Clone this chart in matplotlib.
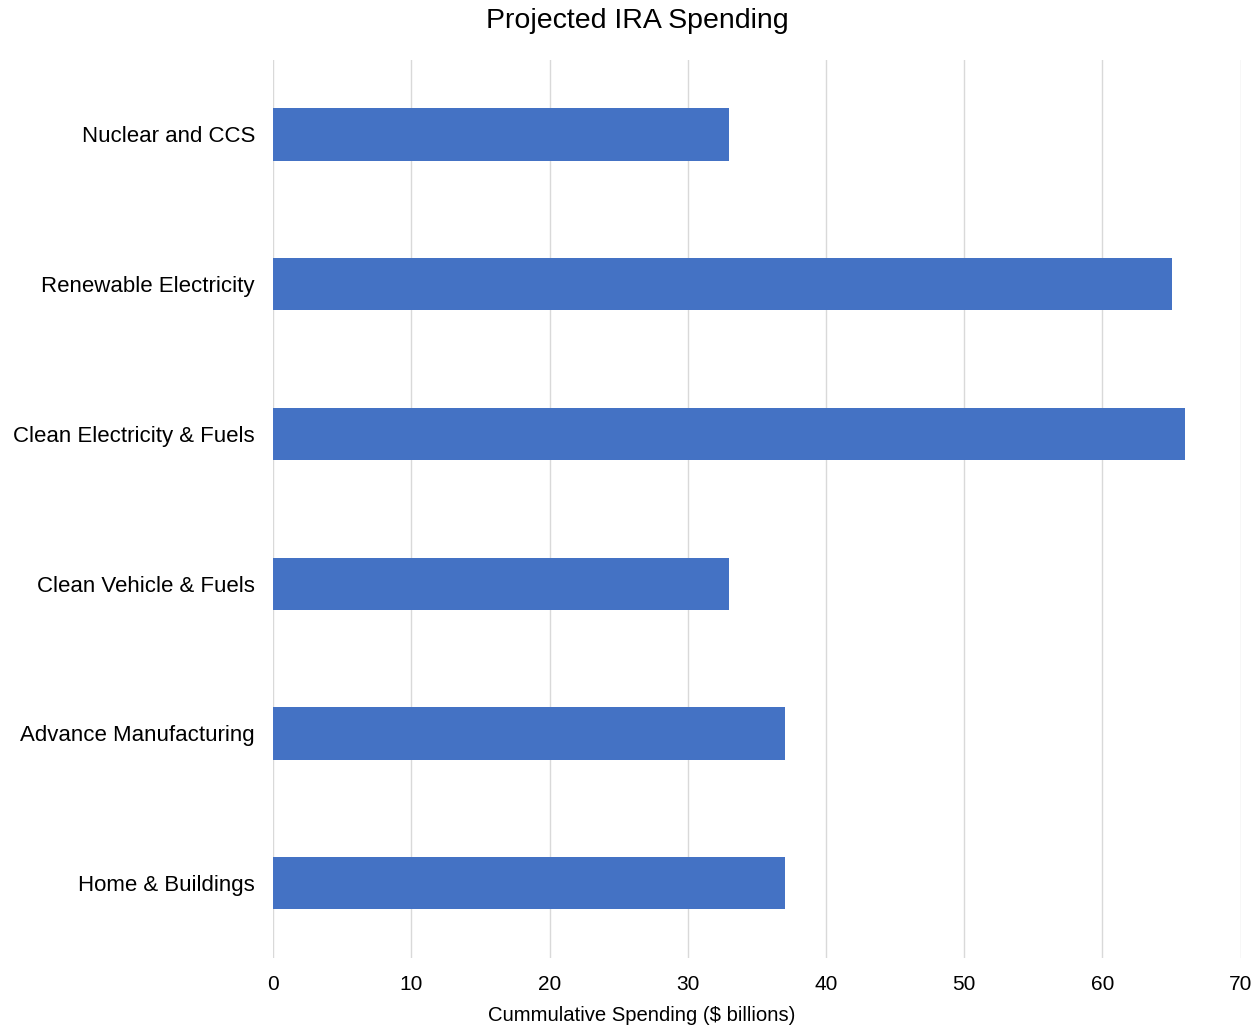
import matplotlib
matplotlib.use('Agg')
import matplotlib.pyplot as plt

plt.rcParams['font.family'] = ['Liberation Sans', 'DejaVu Sans']

# Data
categories = ['Nuclear and CCS', 'Renewable Electricity', 'Clean Electricity & Fuels',
              'Clean Vehicle & Fuels', 'Advance Manufacturing', 'Home & Buildings']
spending = [33, 65, 66, 33, 37, 37]
x_ticks = [0, 10, 20, 30, 40, 50, 60, 70]

fig = plt.figure(figsize=(12.6, 10.28), dpi=100)
ax = fig.add_axes([0.2167, 0.068, 0.768, 0.874])

ypos = list(range(len(categories)))
ax.barh(ypos, spending, height=0.35, color='#4472C4', zorder=3)

ax.set_ylim(len(categories) - 0.5, -0.5)
ax.set_xlim(0, 70)
ax.set_yticks(ypos)
ax.set_yticklabels(categories, fontsize=16)
ax.set_xticks(x_ticks)
ax.set_xticklabels([str(t) for t in x_ticks], fontsize=15)
ax.tick_params(axis='x', length=0, pad=12)
ax.tick_params(axis='y', length=0, pad=13)

ax.grid(axis='x', color='#d9d9d9', linewidth=1, zorder=0)
for s in ax.spines.values():
    s.set_visible(False)

# title and axis label are centred on the figure, not the axes
fig.text(0.506, 0.980, 'Projected IRA Spending', fontsize=20.5, ha='center', va='center')
fig.text(0.509, 0.012, 'Cummulative Spending ($ billions)', fontsize=14.6, ha='center', va='center')

fig.savefig('out.png', dpi=100)
